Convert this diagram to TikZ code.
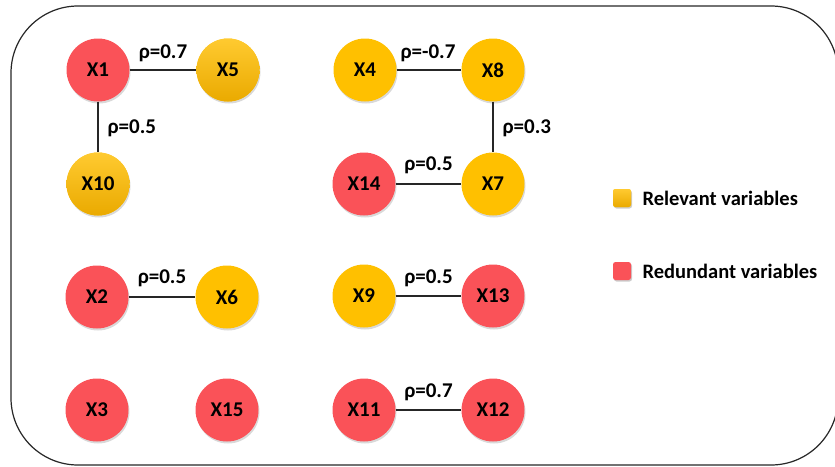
\documentclass[tikz,border=0pt]{standalone}
\usepackage{fontspec}
\setmainfont{Carlito}
\usetikzlibrary{shadows}
\definecolor{redv}{RGB}{250,82,88}
\definecolor{yelv}{RGB}{255,192,0}
\definecolor{yeltop}{RGB}{255,202,48}
\definecolor{yelbot}{RGB}{234,170,0}
\begin{document}
\begin{tikzpicture}[x=1pt,y=-1pt,
  var/.style={circle, minimum size=63pt, inner sep=0pt, font=\bfseries\fontsize{21}{21}\selectfont,
    drop shadow={shadow xshift=1pt, shadow yshift=-2pt, opacity=0.15, fill=black}},
  redvar/.style={var, fill=redv},
  yelvar/.style={var, fill=yelv},
  yelgrad/.style={var, fill=yelv, path picture={\shade[top color=yeltop, bottom color=yelbot]
    (path picture bounding box.south west) rectangle (path picture bounding box.north east);}},
  link/.style={draw=black!85, line width=1.2pt},
  rho/.style={font=\bfseries\fontsize{21}{21}\selectfont, inner sep=1pt},
  legbox/.style={rounded corners=2.5pt, minimum size=18pt, inner sep=0pt,
    drop shadow={shadow xshift=1pt, shadow yshift=-1.5pt, opacity=0.2, fill=black}},
  legtext/.style={font=\bfseries\fontsize{20.5}{20.5}\selectfont, anchor=west}]
\useasboundingbox (0,0) rectangle (835,466);
\draw[line width=1.2pt, black!85, rounded corners=67pt] (11,6) rectangle (838,465);

\node[redvar]  (x1)  at (98,70)   {X1};
\node[yelgrad] (x5)  at (228,70)  {X5};
\node[yelgrad] (x10) at (98,184)  {X10};
\node[yelvar]  (x4)  at (365,70)  {X4};
\node[yelvar]  (x8)  at (493,70)  {X8};
\node[redvar]  (x14) at (364,184) {X14};
\node[yelvar]  (x7)  at (493,184) {X7};
\node[redvar]  (x2)  at (97,297)  {X2};
\node[yelvar]  (x6)  at (227,297) {X6};
\node[yelvar]  (x9)  at (364,296) {X9};
\node[redvar]  (x13) at (493,296) {X13};
\node[redvar]  (x3)  at (97,410)  {X3};
\node[redvar]  (x15) at (227,410) {X15};
\node[redvar]  (x11) at (364,410) {X11};
\node[redvar]  (x12) at (493,410) {X12};

\draw[link] (x1) -- node[rho, midway, yshift=17pt] {ρ=0.7} (x5);
\draw[link] (x1) -- node[rho, midway, right=8pt, yshift=-1pt] {ρ=0.5} (x10);
\draw[link] (x4) -- node[rho, midway, yshift=17pt, xshift=-1pt] {ρ=-0.7} (x8);
\draw[link] (x8) -- node[rho, midway, right=8pt, yshift=-1pt] {ρ=0.3} (x7);
\draw[link] (x14) -- node[rho, midway, yshift=19pt] {ρ=0.5} (x7);
\draw[link] (x2) -- node[rho, midway, yshift=19pt] {ρ=0.5} (x6);
\draw[link] (x9) -- node[rho, midway, yshift=18pt] {ρ=0.5} (x13);
\draw[link] (x11) -- node[rho, midway, yshift=18pt] {ρ=0.7} (x12);

\node[legbox, fill=yelv, path picture={\shade[top color=yeltop, bottom color=yelbot]
    (path picture bounding box.south west) rectangle (path picture bounding box.north east);}] (ly) at (622,198) {};
\node[legtext] (lyt) at (639,198) {Relevant variables};
\node[legbox, fill=redv] (lr) at (622,271) {};
\node[legtext] (lrt) at (639,271) {Redundant variables};
\end{tikzpicture}
\end{document}
